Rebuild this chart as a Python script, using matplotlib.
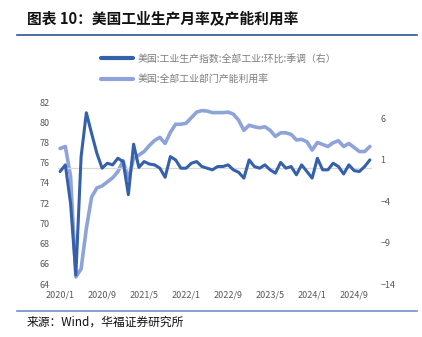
import numpy as np
import matplotlib
matplotlib.use("Agg")
import matplotlib.pyplot as plt
from matplotlib.lines import Line2D

plt.rcParams['font.family'] = ['Noto Sans CJK SC', 'DejaVu Sans']

# monthly data 2020/1 - 2024/12
months = ["%d/%d" % (y, m) for y in range(2020, 2025) for m in range(1, 13)]

ip_mom = [-0.4, 0.4, -4.3, -12.9, 1.4, 6.7, 4.2, 1.8, 0.0, 0.6, 0.4, 1.2,
          0.8, -3.2, 2.9, 0.1, 0.8, 0.5, 0.4, 0.0, -1.1, 1.4, 1.0, 0.0,
          0.0, 0.6, 0.8, 0.2, 0.0, -0.2, 0.2, 0.2, 0.4, -0.2, -0.5, -1.2,
          1.0, 0.2, 0.0, 0.4, -0.2, -0.6, 0.7, 0.0, 0.2, -0.8, 0.4, -0.4,
          -1.2, 1.2, -0.2, -0.2, 0.6, 0.2, -0.7, 0.4, -0.3, -0.4, 0.2, 1.0]

cap_util = [77.4, 77.6, 74.6, 64.7, 65.5, 69.5, 72.6, 73.5, 73.7, 74.1, 74.5, 75.1,
            76.2, 74.4, 76.4, 76.75, 77.1, 77.7, 78.2, 78.5, 77.9, 79.0, 79.8, 79.8,
            79.9, 80.45, 81.0, 81.15, 81.1, 80.95, 80.95, 80.95, 81.0, 80.8, 80.2, 79.2,
            79.7, 79.55, 79.45, 79.55, 79.2, 78.6, 78.95, 78.95, 78.8, 78.25, 78.3, 78.07,
            77.25, 78.0, 77.8, 77.6, 77.97, 78.17, 77.6, 77.9, 77.5, 77.1, 77.1, 77.6]

label_ip = "美国:工业生产指数:全部工业:环比:季调（右）"
label_cu = "美国:全部工业部门产能利用率"

dark = "#3560AA"
light = "#8DA3DA"
grey_txt = "#7F7F7F"

fig = plt.figure(figsize=(4.22, 3.37), dpi=100)

# header / footer
fig.text(27/422, 1 - 18/337, "图表 10：美国工业生产月率及产能利用率",
         fontsize=10.6, fontweight='bold', va='center', ha='left', color='#111111')
fig.add_artist(Line2D([17/422, 417/422], [1 - 35/337, 1 - 35/337],
                      color='#2F5496', lw=1.2))
fig.add_artist(Line2D([17/422, 417/422], [1 - 311/337, 1 - 311/337],
                      color='#6F8FCB', lw=1.2))
fig.text(27/422, 1 - 322/337, "来源：Wind，华福证券研究所",
         fontsize=8.5, va='center', ha='left', color='#111111')

ax = fig.add_axes([58/422, 1 - 284/337, 314/422, 182/337])
ax2 = ax.twinx()

x = np.arange(len(months))
l2, = ax.plot(x, cap_util, color=light, lw=2.6, solid_capstyle='round', zorder=3)
ax2.axhline(0, color='#D9D9D9', lw=0.9, zorder=1)
l1, = ax2.plot(x, ip_mom, color=dark, lw=2.2, solid_capstyle='round', zorder=3)

ax.set_xlim(-0.4, len(months) - 0.6)
ax.set_ylim(64, 82)
ax.set_yticks(np.arange(64, 83, 2))
ax2.set_ylim(-14, 8)
ax2.set_yticks([-14, -9, -4, 1, 6])
ax2.set_yticklabels(["\u221214", "\u22129", "\u22124", "1", "6"])

ticks = x[::8]
ax.set_xticks(ticks)
ax.set_xticklabels([months[i] for i in ticks])

for a in (ax, ax2):
    for s in a.spines.values():
        s.set_visible(False)
    a.tick_params(length=0, labelsize=6.5, labelcolor='#595959')
ax.tick_params(axis='y', pad=6)
ax2.tick_params(axis='y', pad=6)
ax.tick_params(axis='x', pad=5)

fig.legend([l1, l2], [label_ip, label_cu], loc='upper left',
           bbox_to_anchor=(97/422, 1 - 50/337), frameon=False,
           fontsize=7.1, labelcolor=grey_txt, handlelength=3.3,
           handletextpad=0.4, labelspacing=1.05, borderaxespad=0)
for h in fig.legends[0].get_lines():
    h.set_linewidth(3)

fig.savefig("out.png", dpi=100)
